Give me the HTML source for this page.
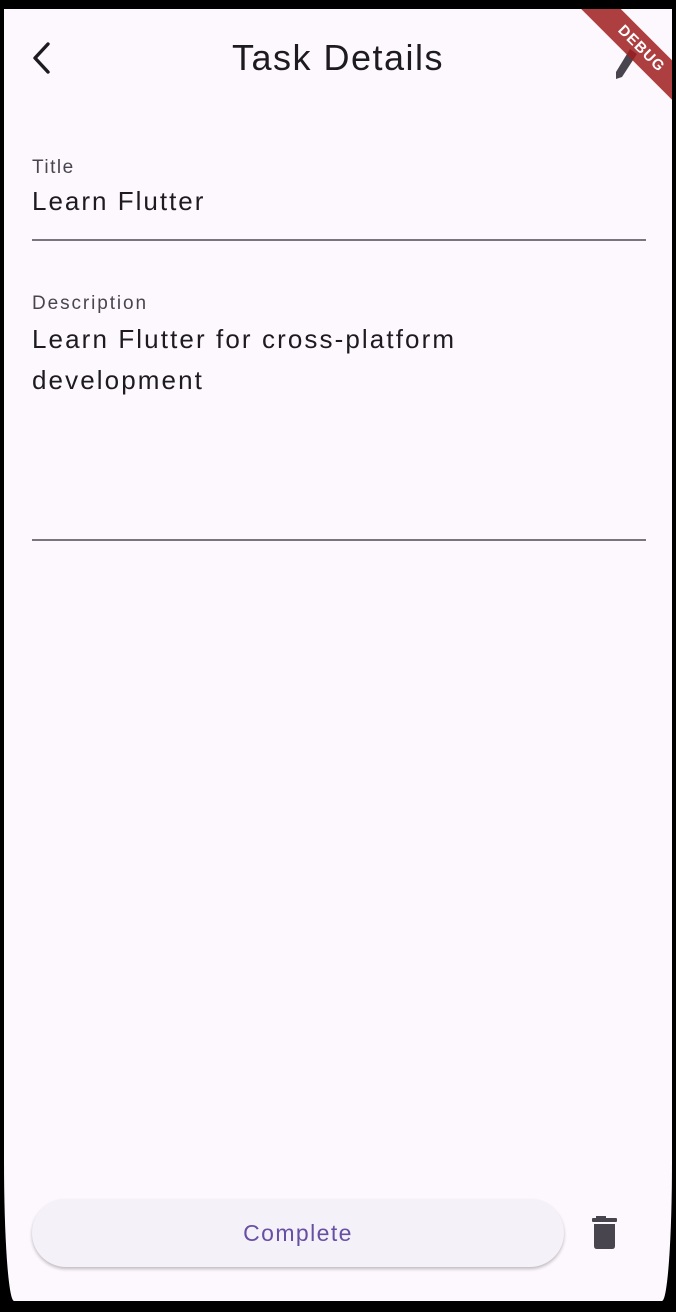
<!DOCTYPE html>
<html><head><meta charset="utf-8"><style>
html,body{margin:0;padding:0;background:#000;width:676px;height:1312px;overflow:hidden;font-family:"Liberation Sans",sans-serif;}
#scr{position:absolute;left:4px;top:9px;width:668px;height:1292px;background:#fdf8fd;border-radius:0 0 10px 10px/0 0 140px 140px;overflow:hidden;}
.t{position:absolute;color:#1d1b20;}
.line{position:absolute;left:28px;width:614px;height:2px;background:#79747e;}
</style></head><body>
<div id="scr">
<svg style="position:absolute;left:26px;top:32px" width="24" height="34" viewBox="0 0 24 34"><polyline points="18,3 5,17 18,31" fill="none" stroke="#1d1b20" stroke-width="3.4" stroke-linecap="round" stroke-linejoin="round"/></svg>
<div class="t" style="left:0;width:668px;text-align:center;top:28px;font-size:36px;letter-spacing:1.5px;">Task Details</div>
<svg style="position:absolute;left:610px;top:36px" width="26" height="38" viewBox="0 0 26 38"><path d="M16 4 L23 9 L8 32 L2 34 L2 27 Z" fill="#49454f"/></svg>
<div style="position:absolute;left:552px;top:26px;width:170px;height:28px;background:rgba(160,30,30,0.85);transform:rotate(45deg);color:#fff;font-weight:bold;font-size:15px;text-align:center;line-height:28px;letter-spacing:1px;">DEBUG</div>
<div class="t" style="left:28px;top:148px;font-size:19px;color:#49454f;letter-spacing:1.5px;">Title</div>
<div class="t" style="left:28px;top:177px;font-size:26px;letter-spacing:2px;">Learn Flutter</div>
<div class="line" style="top:230px"></div>
<div class="t" style="left:28px;top:284px;font-size:19px;color:#49454f;letter-spacing:1.9px;">Description</div>
<div class="t" style="left:28px;top:310px;font-size:26px;line-height:41px;letter-spacing:2.1px;">Learn Flutter for cross-platform<br>development</div>
<div class="line" style="top:530px"></div>
<div style="position:absolute;left:28px;top:1190px;width:532px;height:68px;border-radius:34px;background:#f5f1f8;box-shadow:0 2px 3px rgba(0,0,0,0.25);color:#6750a4;font-size:23px;text-align:center;line-height:68px;letter-spacing:1.4px;">Complete</div>
<svg style="position:absolute;left:586px;top:1206px" width="30" height="36" viewBox="0 0 30 36"><rect x="6" y="1" width="10" height="3" fill="#49454f"/><rect x="2" y="3" width="25" height="4" rx="1" fill="#49454f"/><path d="M4 9 H25 V31 Q25 34 22 34 H7 Q4 34 4 31 Z" fill="#49454f"/></svg>
</div>
</body></html>
